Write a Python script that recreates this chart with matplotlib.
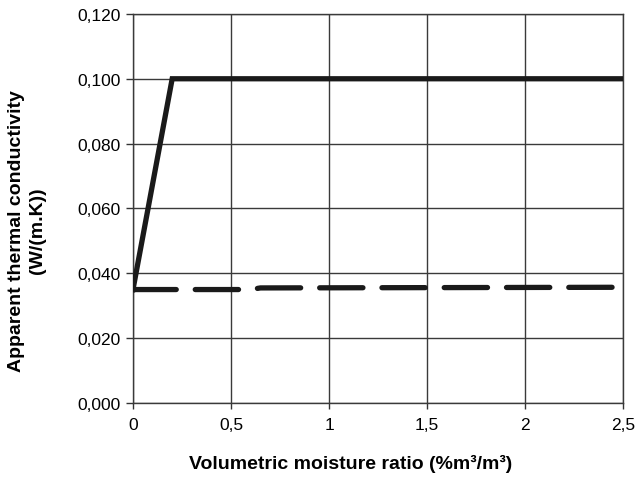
import matplotlib
matplotlib.use("Agg")
import matplotlib.pyplot as plt

plt.rcParams['font.family'] = ['Liberation Sans', 'DejaVu Sans']

# moisture ratio vs. apparent conductivity
solid_x = [0.0, 0.2, 2.5]
solid_y = [0.035, 0.100, 0.100]
dashed_x = [0.0, 0.6, 0.65, 2.5]
dashed_y = [0.0350, 0.0350, 0.0355, 0.0357]

x_ticks = [0, 0.5, 1, 1.5, 2, 2.5]
x_labels = ['0', '0,5', '1', '1,5', '2', '2,5']
y_ticks = [0.0, 0.02, 0.04, 0.06, 0.08, 0.10, 0.12]
y_labels = ['0,000', '0,020', '0,040', '0,060', '0,080', '0,100', '0,120']

fig = plt.figure(figsize=(6.35, 4.81), dpi=100)
ax = fig.add_axes([0.2094, 0.160, 0.772, 0.809])

ax.plot(solid_x, solid_y, color='#1a1a1a', lw=3.8, solid_joinstyle='miter', zorder=3)
ax.plot(dashed_x, dashed_y, color='#1a1a1a', lw=3.8, dashes=(8.2, 3.6),
        dash_capstyle='round', zorder=3)

ax.set_xlim(0, 2.5)
ax.set_ylim(0, 0.12)
ax.set_xticks(x_ticks)
ax.set_xticklabels(x_labels)
ax.set_yticks(y_ticks)
ax.set_yticklabels(y_labels)
ax.tick_params(axis='y', labelsize=12.5, color='#333333', length=5, width=1,
               direction='out', pad=4)
ax.tick_params(axis='x', labelsize=12.5, color='#333333', length=4, width=1,
               direction='out', pad=6)
ax.grid(True, color='#3a3a3a', lw=1)
ax.set_axisbelow(True)
for s in ax.spines.values():
    s.set_color('#3a3a3a')
    s.set_linewidth(1)

ax.set_xlabel('Volumetric moisture ratio (%m³/m³)', fontsize=14,
              fontweight='bold')
ax.set_ylabel('Apparent thermal conductivity\n(W/(m.K))', fontsize=14,
              fontweight='bold', linespacing=1.25)
ax.xaxis.set_label_coords(0.444, -0.131)
ax.yaxis.set_label_coords(-0.178, 0.445)

fig.savefig('out.png', dpi=100)
